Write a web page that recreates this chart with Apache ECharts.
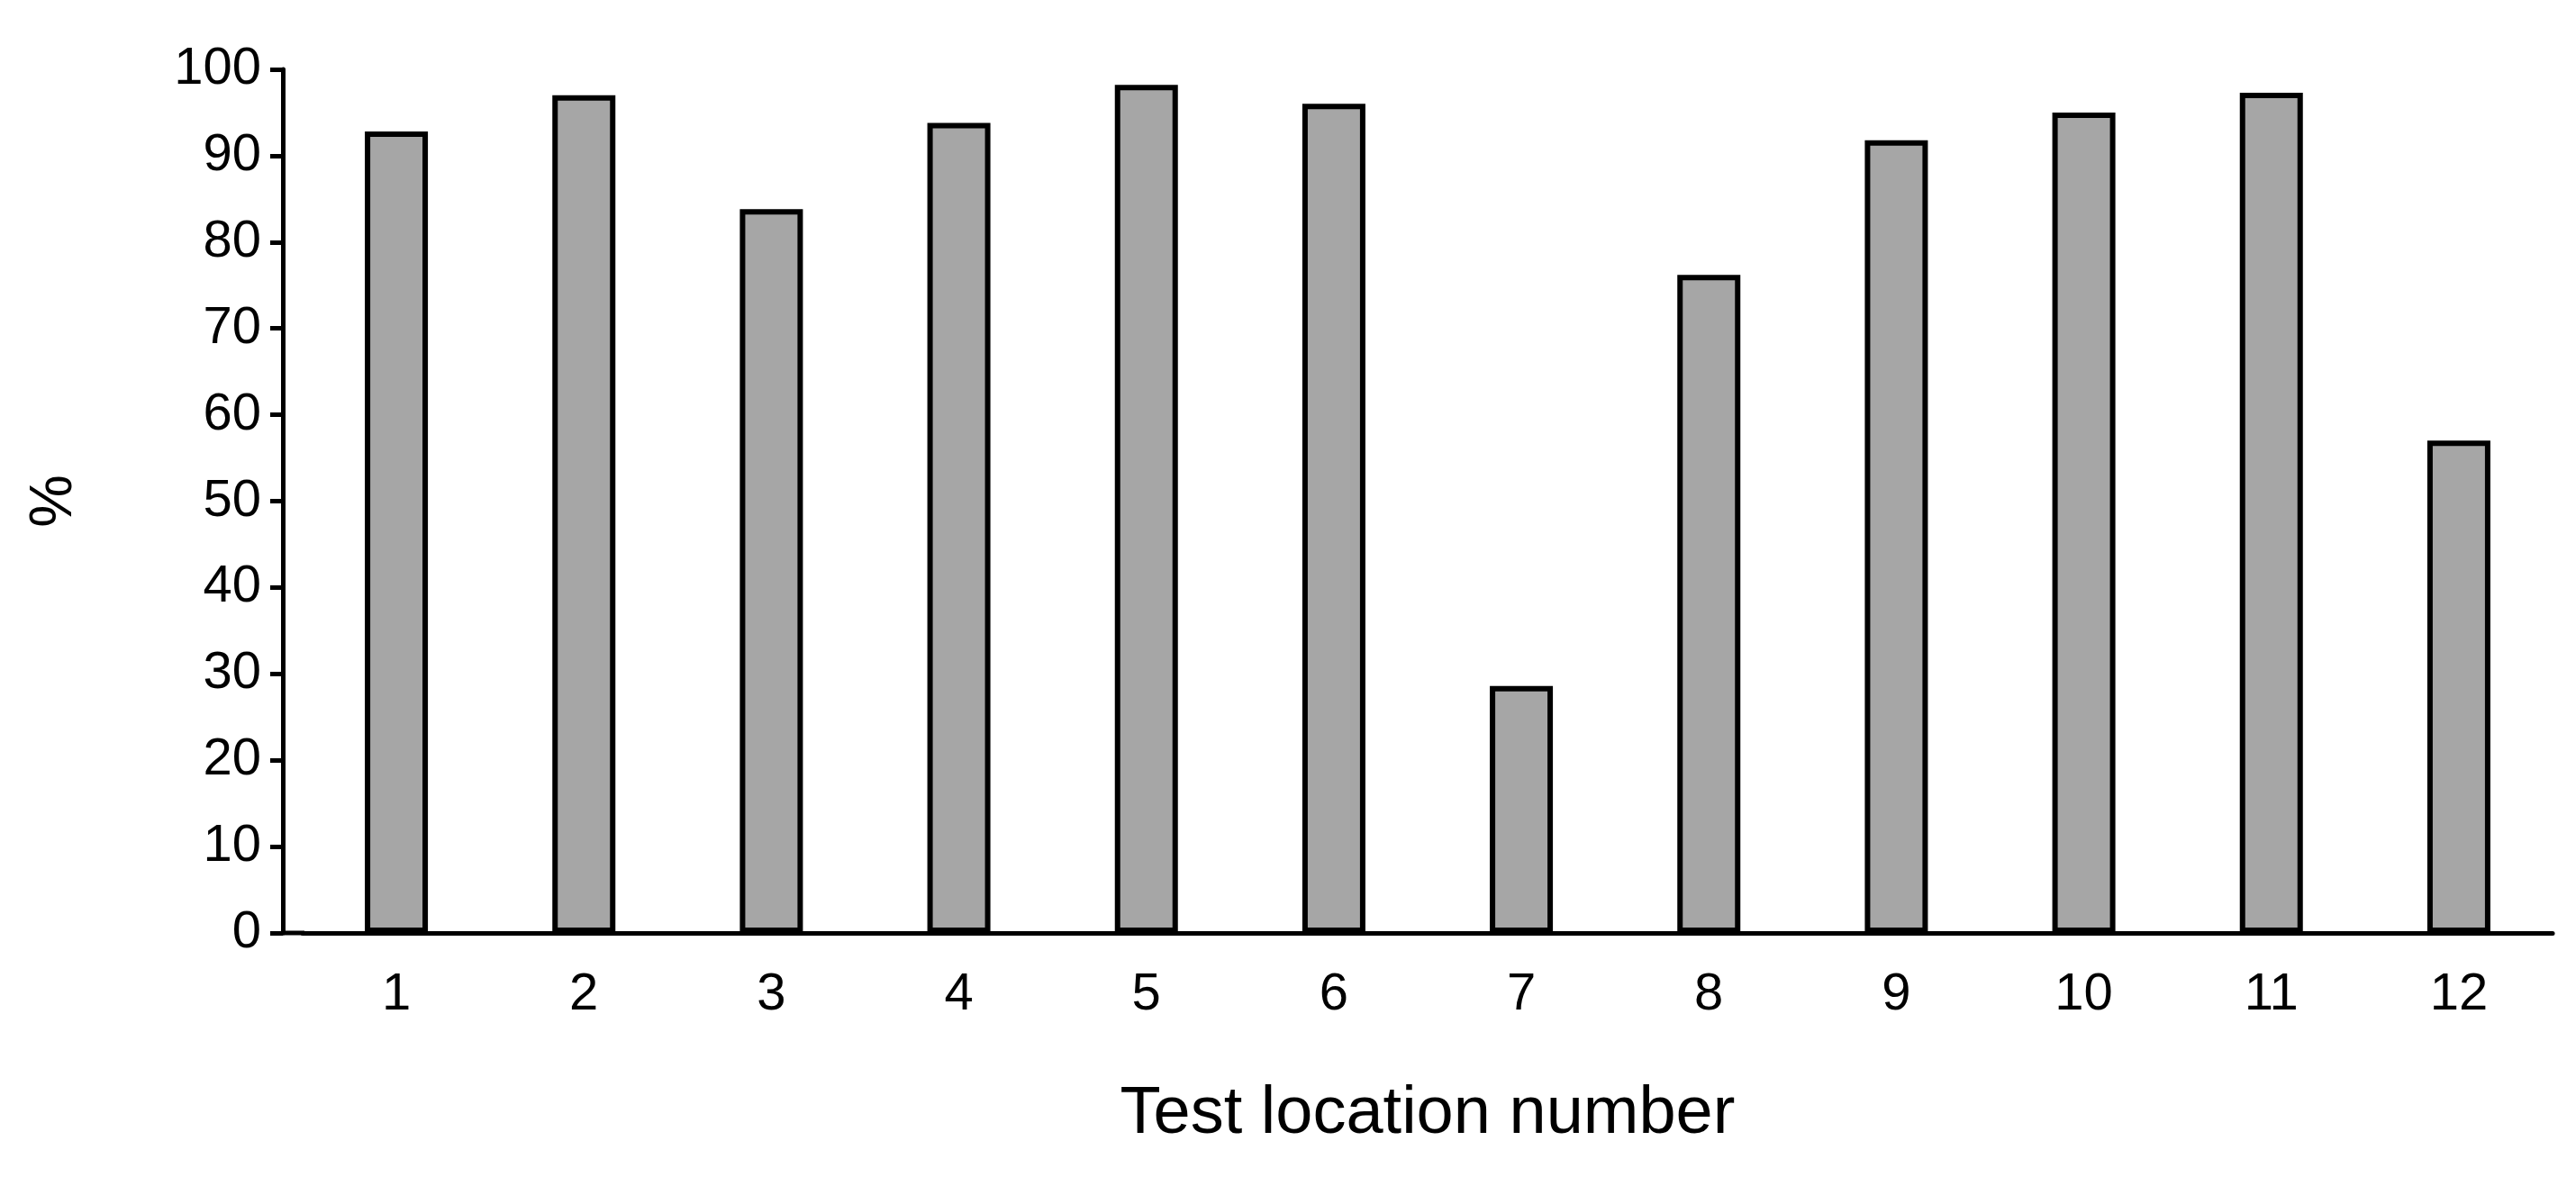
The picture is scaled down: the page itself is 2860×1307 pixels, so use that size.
<!DOCTYPE html>
<html>
<head>
<meta charset="utf-8">
<script src="https://cdn.jsdelivr.net/npm/echarts@6/dist/echarts.min.js"></script>
<style>html,body{margin:0;background:#fff}#main{width:2860px;height:1307px}</style>
</head>
<body>
<div id="main"></div>
<script>
const categories = ['1','2','3','4','5','6','7','8','9','10','11','12'];
const percentValues = [92.8, 97, 83.8, 93.8, 98.2, 96, 28.6, 76.2, 91.8, 95, 97.3, 57];

const chart = echarts.init(document.getElementById('main'));
chart.setOption({
  animation: false,
  textStyle: { fontFamily: 'Arial, Liberation Sans, sans-serif' },
  grid: { left: 336, right: 26, top: 77, bottom: 271 },
  xAxis: {
    type: 'category',
    data: categories,
    name: 'Test location number',
    nameLocation: 'middle',
    nameGap: 165,
    nameTextStyle: { fontSize: 74, color: '#000' },
    axisLine: { lineStyle: { color: '#000', width: 5 } },
    axisTick: { show: false },
    axisLabel: { fontSize: 58, color: '#000', margin: 40 }
  },
  yAxis: {
    type: 'value',
    min: 0, max: 100, interval: 10,
    offset: 22,
    name: '%',
    nameLocation: 'middle',
    nameGap: 220,
    nameTextStyle: { fontSize: 66, color: '#000' },
    axisLine: { show: true, lineStyle: { color: '#000', width: 5 } },
    axisTick: { show: true, length: 14, lineStyle: { color: '#000', width: 5 } },
    axisLabel: { fontSize: 58, color: '#000', margin: 24 },
    splitLine: { show: false }
  },
  graphic: [{
    type: 'line',
    shape: { x1: 314, y1: 1036, x2: 338, y2: 1036 },
    style: { stroke: '#000', lineWidth: 5 }
  }],
  series: [{
    type: 'bar',
    data: percentValues,
    barWidth: 70,
    itemStyle: { color: '#a6a6a6', borderColor: '#000', borderWidth: 6 }
  }]
});
</script>
</body>
</html>
